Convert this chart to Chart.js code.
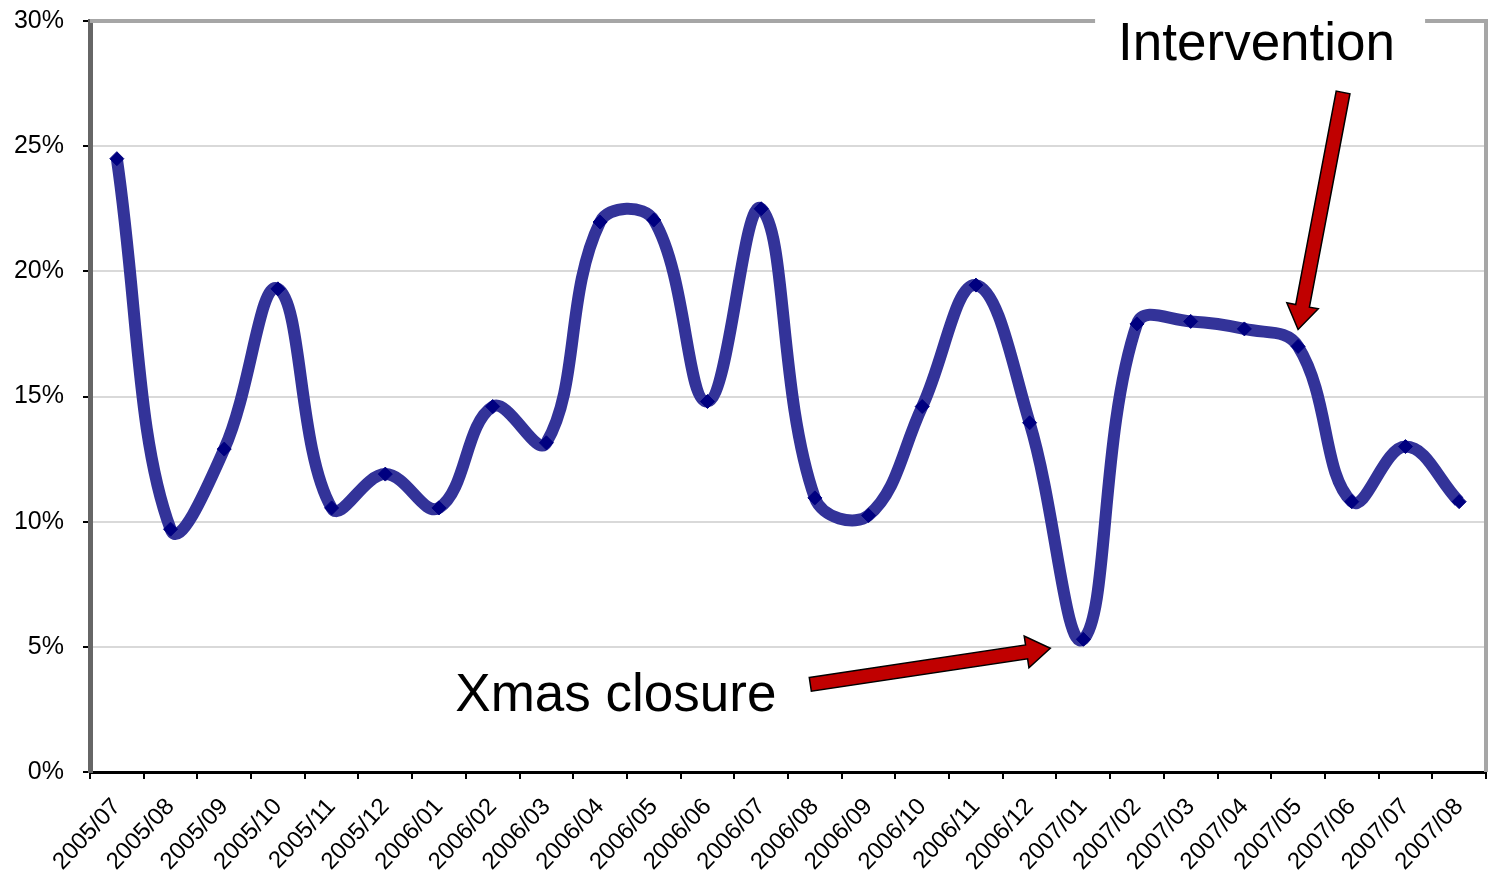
<!DOCTYPE html>
<html>
<head>
<meta charset="utf-8">
<script src="https://cdn.jsdelivr.net/npm/chart.js@4.4.1/dist/chart.umd.min.js"></script>
<style>
  html, body { margin: 0; padding: 0; background: #fff; }
  #wrap { position: relative; width: 1495px; height: 887px; }
</style>
</head>
<body>
<div id="wrap"><canvas id="c"></canvas></div>
<script>
// ---- data ----
const categories = ["2005/07","2005/08","2005/09","2005/10","2005/11","2005/12",
  "2006/01","2006/02","2006/03","2006/04","2006/05","2006/06","2006/07","2006/08",
  "2006/09","2006/10","2006/11","2006/12","2007/01","2007/02","2007/03","2007/04",
  "2007/05","2007/06","2007/07","2007/08"];
const rates = [24.5, 9.7, 12.9, 19.3, 10.55, 11.9,
  10.55, 14.6, 13.15, 21.97, 22.05, 14.8, 22.5, 10.95,
  10.25, 14.6, 19.45, 13.95, 5.3, 17.9, 18.0, 17.7,
  17.0, 10.8, 13.0, 10.8];
const yTicks = [0, 5, 10, 15, 20, 25, 30];
const annotations = [
  { text: "Xmas closure", at: "2007/01" },
  { text: "Intervention", at: "2007/05" }
];

const FONT = "'Liberation Sans', Arial, sans-serif";

function drawArrow(ctx, tx, ty, fx, fy) {
  const ang = Math.atan2(ty - fy, tx - fx);
  const len = Math.hypot(tx - fx, ty - fy);
  const sw = 7, hw = 16, hl = 24;
  ctx.save();
  ctx.translate(fx, fy);
  ctx.rotate(ang);
  ctx.beginPath();
  ctx.moveTo(0, -sw);
  ctx.lineTo(len - hl, -sw);
  ctx.lineTo(len - hl, -hw);
  ctx.lineTo(len, 0);
  ctx.lineTo(len - hl, hw);
  ctx.lineTo(len - hl, sw);
  ctx.lineTo(0, sw);
  ctx.closePath();
  ctx.fillStyle = "#C00000";
  ctx.fill();
  ctx.lineWidth = 1.5;
  ctx.strokeStyle = "#000";
  ctx.stroke();
  ctx.restore();
}

const decor = {
  id: "decor",
  afterDraw(chart) {
    const { ctx, chartArea: ca, scales } = chart;
    const xs = scales.x, ys = scales.y;
    ctx.save();
    // top and right frame
    ctx.strokeStyle = "#a6a6a6";
    ctx.lineWidth = 4;
    ctx.beginPath();
    ctx.moveTo(ca.left, ca.top);
    ctx.lineTo(ca.right, ca.top);
    ctx.lineTo(ca.right, ca.bottom);
    ctx.stroke();

    // Xmas closure
    const a0 = annotations[0];
    const i0 = categories.indexOf(a0.at);
    const p0x = xs.getPixelForValue(i0), p0y = ys.getPixelForValue(rates[i0]);
    drawArrow(ctx, p0x - 33, p0y + 9, p0x - 273, p0y + 45);
    ctx.fillStyle = "#000";
    ctx.font = "53px " + FONT;
    ctx.textAlign = "left";
    ctx.textBaseline = "alphabetic";
    ctx.fillText(a0.text, p0x - 628, p0y + 72);

    // Intervention
    const a1 = annotations[1];
    const i1 = categories.indexOf(a1.at);
    const p1x = xs.getPixelForValue(i1), p1y = ys.getPixelForValue(rates[i1]);
    ctx.fillStyle = "#fff";
    ctx.fillRect(p1x - 203, ca.top - 12, 330, 24);
    drawArrow(ctx, p1x, p1y - 17, p1x + 45, p1y - 254);
    ctx.fillStyle = "#000";
    ctx.font = "53px " + FONT;
    ctx.fillText(a1.text, p1x - 180, ca.top + 39);
    ctx.restore();
  }
};

new Chart(document.getElementById("c"), {
  type: "line",
  data: {
    labels: categories,
    datasets: [{
      data: rates,
      borderColor: "#333399",
      borderWidth: 12,
      tension: 0.4,
      pointStyle: "rectRot",
      pointRadius: 7,
      pointBackgroundColor: "#000080",
      pointBorderColor: "#000080",
      pointBorderWidth: 1,
      fill: false
    }]
  },
  options: {
    responsive: true,
    maintainAspectRatio: false,
    animation: false,
    events: [],
    layout: { padding: { top: 21, right: 9, left: 0, bottom: 0 } },
    plugins: { legend: { display: false }, tooltip: { enabled: false } },
    scales: {
      x: {
        type: "category",
        offset: true,
        grid: {
          display: true, offset: true, drawOnChartArea: false,
          tickColor: "#000", tickLength: 7, lineWidth: 2
        },
        border: { color: "#000", width: 3 },
        ticks: {
          color: "#000", font: { family: FONT, size: 24 },
          maxRotation: 47, minRotation: 47, autoSkip: false, padding: 14
        },
        afterFit(s) { s.height = 115; }
      },
      y: {
        min: 0, max: 30,
        afterBuildTicks(s) { s.ticks = yTicks.map(v => ({ value: v })); },
        grid: {
          color: "#d9d9d9", lineWidth: 2, tickColor: "#000", tickLength: 7
        },
        border: { color: "#666", width: 5 },
        ticks: {
          color: "#000", font: { family: FONT, size: 25 }, padding: 19,
          callback: v => v + "%"
        },
        afterFit(s) { s.width = 90; s.paddingTop = 0; s.paddingBottom = 0; }
      }
    }
  },
  plugins: [decor]
});
</script>
</body>
</html>
